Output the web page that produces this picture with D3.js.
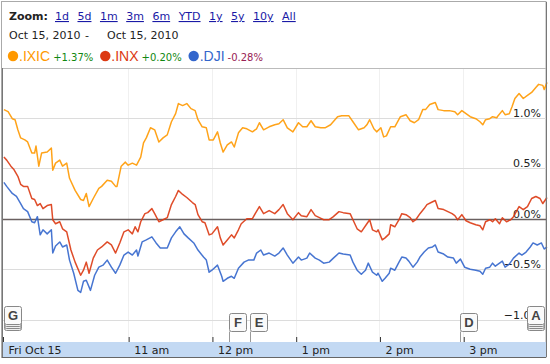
<!DOCTYPE html>
<html lang="en">
<head>
<meta charset="UTF-8">
<title>Google Finance - Oct 15, 2010</title>
<script src="https://d3js.org/d3.v7.min.js"></script>
<style>
  body { margin: 0; background: #fff; }
  text { font-family: "DejaVu Sans", Verdana, sans-serif; }
</style>
</head>
<body>
<svg width="550" height="364" id="mainsvg"></svg>
<script>
// minutes after the 9:30 open, percent change vs previous close
const ixic = [[1,1.08],[4,1.06],[7,0.99],[9,0.98],[11,0.88],[13,0.80],[16,0.78],[18,0.76],[21,0.65],[23,0.65],[24,0.72],[26,0.52],[28,0.65],[32,0.66],[35,0.70],[36,0.48],[38,0.55],[41,0.58],[43,0.52],[46,0.55],[48,0.40],[52,0.28],[56,0.19],[58,0.18],[60,0.25],[62,0.12],[65,0.20],[69,0.30],[71,0.32],[75,0.38],[78,0.37],[81,0.32],[82,0.32],[85,0.52],[88,0.56],[90,0.53],[93,0.55],[96,0.53],[99,0.61],[101,0.75],[103,0.80],[106,0.90],[109,0.88],[112,0.76],[115,0.80],[118,0.83],[121,0.96],[124,1.04],[126,1.14],[129,1.12],[132,1.14],[135,1.09],[138,1.07],[140,0.98],[143,0.91],[146,0.90],[148,0.78],[151,0.78],[154,0.86],[156,0.75],[158,0.66],[161,0.73],[164,0.76],[166,0.71],[169,0.85],[172,0.90],[175,0.89],[179,0.86],[182,0.89],[184,0.95],[187,0.88],[191,0.91],[195,0.93],[198,0.94],[201,0.98],[204,0.90],[208,0.86],[212,0.95],[215,0.91],[218,0.91],[221,0.97],[224,0.91],[228,0.90],[231,0.90],[235,0.93],[240,1.01],[243,1.02],[248,1.02],[251,0.96],[255,0.88],[259,0.90],[261,0.93],[263,0.98],[266,0.89],[268,0.86],[271,0.90],[273,0.81],[275,0.82],[278,0.91],[281,0.91],[285,1.01],[289,1.03],[292,0.97],[295,0.95],[298,0.98],[301,1.08],[303,1.08],[306,1.13],[310,1.15],[312,1.08],[316,1.07],[320,1.07],[324,1.06],[326,1.03],[329,1.07],[332,1.04],[335,1.01],[339,0.99],[342,0.96],[344,0.93],[346,0.98],[349,0.99],[351,1.01],[354,1.00],[355,1.02],[358,1.07],[360,1.03],[363,1.04],[365,1.11],[367,1.19],[370,1.24],[373,1.19],[376,1.22],[379,1.25],[382,1.30],[384,1.33],[387,1.32],[388,1.28],[390,1.35]];
const inx = [[1,0.61],[3,0.58],[6,0.52],[8,0.49],[11,0.42],[13,0.34],[15,0.32],[18,0.32],[21,0.20],[23,0.19],[25,0.13],[27,0.15],[29,0.10],[32,0.13],[35,0.14],[36,-0.01],[38,-0.05],[41,-0.03],[43,-0.10],[46,-0.13],[49,-0.31],[52,-0.43],[56,-0.56],[58,-0.51],[60,-0.43],[62,-0.54],[65,-0.39],[68,-0.31],[71,-0.28],[75,-0.23],[78,-0.26],[81,-0.34],[84,-0.24],[87,-0.13],[90,-0.11],[93,-0.15],[95,-0.08],[97,-0.13],[99,-0.03],[102,0.05],[104,0.06],[107,0.10],[109,0.05],[112,-0.03],[115,-0.01],[118,0.01],[121,0.14],[124,0.22],[126,0.28],[129,0.24],[132,0.21],[136,0.16],[138,0.14],[140,0.04],[143,-0.03],[145,-0.04],[148,-0.16],[150,-0.15],[154,-0.08],[156,-0.19],[158,-0.26],[161,-0.21],[164,-0.16],[166,-0.19],[169,-0.11],[171,-0.05],[175,0.00],[179,0.00],[181,0.05],[184,0.12],[187,0.05],[191,0.08],[195,0.05],[198,0.09],[201,0.14],[204,0.05],[206,0.02],[208,-0.01],[212,0.06],[214,0.03],[218,0.02],[221,0.09],[224,0.03],[227,0.01],[230,-0.01],[234,-0.01],[237,0.02],[241,0.07],[244,0.06],[249,0.05],[251,-0.01],[254,-0.10],[257,-0.13],[261,-0.05],[263,-0.01],[265,-0.11],[268,-0.13],[269,-0.11],[272,-0.21],[274,-0.19],[277,-0.15],[278,-0.06],[281,-0.08],[284,-0.01],[286,0.05],[289,0.04],[292,0.01],[294,-0.03],[296,-0.01],[299,0.05],[302,0.10],[304,0.14],[307,0.16],[310,0.18],[312,0.10],[316,0.09],[319,0.07],[322,0.05],[324,0.03],[326,-0.01],[329,0.04],[332,-0.02],[335,-0.04],[339,-0.06],[342,-0.07],[344,-0.11],[346,-0.03],[349,-0.01],[351,-0.03],[353,0.00],[356,-0.05],[358,0.01],[361,-0.03],[364,-0.01],[366,0.02],[370,0.12],[373,0.09],[376,0.12],[379,0.20],[382,0.22],[385,0.20],[387,0.15],[390,0.21]];
const dji = [[1,0.36],[3,0.32],[7,0.25],[10,0.22],[13,0.15],[15,0.10],[18,0.07],[21,-0.03],[23,-0.04],[25,0.02],[27,-0.16],[29,-0.11],[32,-0.15],[35,-0.11],[36,-0.34],[38,-0.27],[41,-0.23],[43,-0.28],[46,-0.26],[48,-0.41],[51,-0.54],[54,-0.71],[56,-0.73],[58,-0.62],[60,-0.61],[63,-0.71],[66,-0.56],[69,-0.48],[72,-0.46],[75,-0.41],[78,-0.48],[81,-0.54],[84,-0.46],[87,-0.36],[90,-0.33],[93,-0.36],[96,-0.31],[97,-0.37],[100,-0.23],[103,-0.21],[107,-0.18],[110,-0.24],[113,-0.29],[118,-0.29],[121,-0.19],[124,-0.13],[127,-0.08],[130,-0.15],[133,-0.19],[137,-0.24],[140,-0.31],[144,-0.38],[146,-0.41],[148,-0.53],[150,-0.51],[154,-0.46],[157,-0.57],[158,-0.62],[161,-0.59],[164,-0.57],[166,-0.59],[169,-0.49],[173,-0.43],[176,-0.41],[180,-0.41],[182,-0.34],[185,-0.31],[187,-0.36],[191,-0.34],[195,-0.37],[198,-0.34],[201,-0.29],[204,-0.36],[208,-0.44],[212,-0.38],[214,-0.41],[218,-0.39],[220,-0.34],[224,-0.39],[227,-0.41],[230,-0.44],[234,-0.43],[237,-0.39],[241,-0.34],[244,-0.35],[249,-0.36],[251,-0.43],[254,-0.51],[257,-0.55],[260,-0.51],[262,-0.44],[265,-0.53],[268,-0.56],[269,-0.54],[272,-0.62],[274,-0.59],[277,-0.54],[278,-0.49],[281,-0.51],[284,-0.43],[286,-0.38],[289,-0.39],[291,-0.42],[294,-0.48],[297,-0.43],[299,-0.38],[302,-0.33],[305,-0.29],[308,-0.28],[310,-0.26],[312,-0.33],[316,-0.35],[319,-0.38],[323,-0.39],[325,-0.44],[328,-0.40],[331,-0.48],[335,-0.50],[339,-0.51],[342,-0.52],[344,-0.55],[346,-0.49],[349,-0.48],[351,-0.44],[353,-0.47],[356,-0.44],[358,-0.42],[360,-0.48],[363,-0.45],[366,-0.39],[370,-0.34],[372,-0.36],[375,-0.33],[378,-0.28],[380,-0.24],[383,-0.26],[386,-0.24],[388,-0.30],[390,-0.28]];

const seriesNames = ['.IXIC', '.INX', '.DJI'];
const seriesChange = ['+1.37%', '+0.20%', '-0.28%'];
const seriesColors = ['#f90', '#dc3912', '#3366cc'];
const changeColors = ['#118811', '#118811', '#992255'];

const zoomLinks = ['1d', '5d', '1m', '3m', '6m', 'YTD', '1y', '5y', '10y', 'All'];
const dateRange = ['Oct 15, 2010', '-', 'Oct 15, 2010'];

const xTickMin = [0, 90, 150, 210, 270, 330];
const xTickLabels = ['Fri Oct 15', '11 am', '12 pm', '1 pm', '2 pm', '3 pm'];
const yTicks = [-1, -0.5, 0, 0.5, 1];

// event flags: letter + minute
const flagLetters = ['G', 'F', 'E', 'D', 'A'];
const flagMin = [1, 162, 177, 328, 377];
const flagStacked = [true, false, false, false, true];

const svg = d3.select('#mainsvg');
const width = +svg.attr('width');
const height = +svg.attr('height');

const plot = {left: 2, right: 546, top: 68, bottom: 342};
const x = d3.scaleLinear().domain([0, 390]).range([2.5, 547]);
const y = d3.scaleLinear().domain([-1, 1]).range([319.7, 117.7]);

// outer frame
svg.append('rect').attr('x', 1.5).attr('y', 1.5).attr('width', 544.5).attr('height', 356)
  .attr('fill', '#fff').attr('stroke', '#aaa');

// header: zoom links
const head = svg.append('g');
head.append('text').text('Zoom:').attr('x', 9).attr('y', 20)
  .attr('font-size', 11).attr('font-weight', 'bold').attr('fill', '#222');
let lx = 55;
zoomLinks.forEach(z => {
  const t = head.append('text').text(z).attr('x', lx).attr('y', 20)
    .attr('font-size', 11).attr('fill', '#1a1aa6').attr('text-decoration', 'underline');
  lx += t.node().getComputedTextLength() + 8.5;
});

// date range
head.append('text').text(dateRange[0]).attr('x', 9).attr('y', 39).attr('font-size', 11).attr('fill', '#222');
head.append('text').text(dateRange[1]).attr('x', 85).attr('y', 39).attr('font-size', 11).attr('fill', '#222');
head.append('text').text(dateRange[2]).attr('x', 107).attr('y', 39).attr('font-size', 11).attr('fill', '#222');

// legend
let gx = 8;
seriesNames.forEach((n, i) => {
  head.append('circle').attr('cx', gx + 5).attr('cy', 56).attr('r', 5.2).attr('fill', seriesColors[i]);
  const nt = head.append('text').text(n).attr('x', gx + 11).attr('y', 61)
    .attr('font-size', 14).attr('fill', seriesColors[i])
    .style('font-family', '"Liberation Sans Narrow", "Arial Narrow", sans-serif');
  const nx = gx + 11 + nt.node().getComputedTextLength() + 3;
  const ct = head.append('text').text(seriesChange[i]).attr('x', nx).attr('y', 61)
    .attr('font-size', 10).attr('fill', changeColors[i]);
  gx = nx + ct.node().getComputedTextLength() + 7;
});

// plot top line
svg.append('line').attr('x1', 2).attr('x2', plot.right).attr('y1', plot.top + 0.5).attr('y2', plot.top + 0.5)
  .attr('stroke', '#bbb');

const g = svg.append('g');

// vertical hour grid
g.selectAll('.vgrid').data(xTickMin.slice(1)).join('line')
  .attr('x1', d => Math.round(x(d)) + 0.5).attr('x2', d => Math.round(x(d)) + 0.5)
  .attr('y1', plot.top + 1).attr('y2', plot.bottom)
  .attr('stroke', '#f0f0f0');

// horizontal grid
g.selectAll('.hgrid').data(yTicks).join('line')
  .attr('x1', plot.left).attr('x2', plot.right)
  .attr('y1', d => Math.round(y(d)) + 0.5).attr('y2', d => Math.round(y(d)) + 0.5)
  .attr('stroke', d => d === 0 ? '#6a6060' : '#dcdcdc')
  .attr('stroke-width', d => d === 0 ? 1.4 : 1);

// y labels
g.selectAll('.ylab').data(yTicks).join('text')
  .attr('x', 541).attr('y', d => y(d) - 1)
  .attr('text-anchor', 'end').attr('font-size', 11).attr('fill', '#222')
  .text(d => d3.format('.1f')(d) + '%');

// series lines
const line = d3.line().x(d => x(d[0])).y(d => y(d[1]));
[ixic, inx, dji].forEach((s, i) => {
  g.append('path').datum(s).attr('d', line)
    .attr('fill', 'none').attr('stroke', seriesColors[i])
    .attr('stroke-width', 1.5).attr('stroke-linejoin', 'round').attr('opacity', 0.9);
});

// left border of plot
svg.append('line').attr('x1', 2.5).attr('x2', 2.5).attr('y1', plot.top).attr('y2', 357)
  .attr('stroke', '#777');
svg.append('line').attr('x1', 546.5).attr('x2', 546.5).attr('y1', 2).attr('y2', 357)
  .attr('stroke', '#777');

// flags
const flags = svg.append('g');
flagLetters.forEach((L, i) => {
  const fx = Math.round(x(flagMin[i])) + 0.5;
  const top = flagStacked[i] ? 306.5 : 313.5;
  const fw = 17, fh = 18;
  if (flagStacked[i]) {
    [6, 4, 2].forEach(o => {
      flags.append('rect').attr('x', fx - (i === 4 ? 2 : 0)).attr('y', top + o).attr('width', fw).attr('height', fh)
        .attr('rx', 2).attr('fill', '#eee').attr('stroke', '#888');
    });
  } else {
    flags.append('line').attr('x1', fx).attr('x2', fx).attr('y1', top + fh).attr('y2', plot.bottom)
      .attr('stroke', '#999');
  }
  const bx = fx - (i === 4 ? 2 : 0);
  flags.append('rect').attr('x', bx).attr('y', top).attr('width', fw).attr('height', fh)
    .attr('rx', 2).attr('fill', '#fafafa').attr('stroke', '#888');
  flags.append('text').text(L).attr('x', bx + fw / 2).attr('y', top + 13.5)
    .attr('text-anchor', 'middle').attr('font-size', 13).attr('font-weight', 'bold')
    .attr('fill', '#444').style('font-family', '"Liberation Sans", Arial, sans-serif');
});

// x axis band
svg.append('rect').attr('x', 3).attr('y', plot.bottom).attr('width', 543).attr('height', 15)
  .attr('fill', '#c3d9f3');
svg.append('line').attr('x1', 2).attr('x2', 546).attr('y1', 357.5).attr('y2', 357.5).attr('stroke', '#666');

const xAxis = d3.axisTop(x).tickValues(xTickMin).tickSize(5).tickFormat((d, i) => xTickLabels[i]);
const ax = svg.append('g').attr('transform', `translate(0.5,${plot.bottom})`).call(xAxis);
ax.select('.domain').remove();
ax.selectAll('.tick line').attr('stroke', '#333');
ax.selectAll('.tick text').attr('y', 12).attr('dy', 0).attr('x', 5)
  .attr('text-anchor', 'start').attr('font-size', 11).attr('fill', '#222')
  .style('font-family', '"DejaVu Sans", Verdana, sans-serif');
</script>
</body>
</html>
